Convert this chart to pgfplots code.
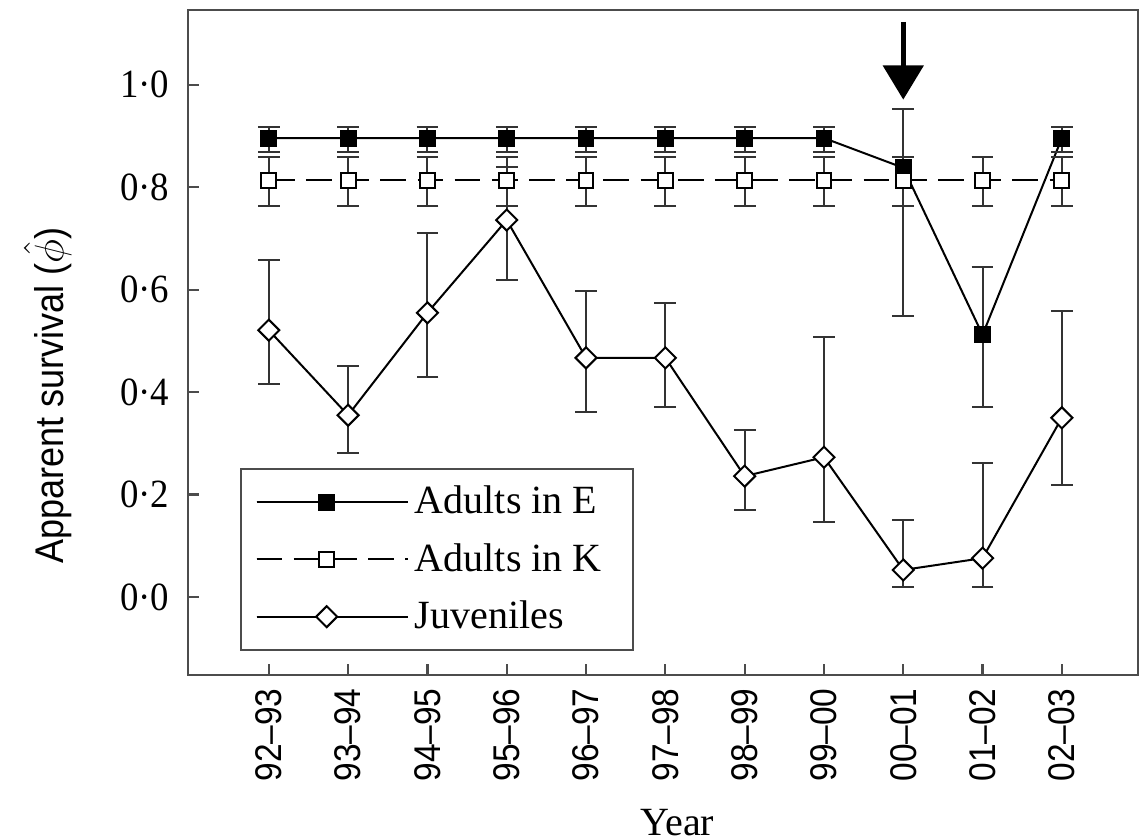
\documentclass[border=0pt]{standalone}
\usepackage{fontspec}
\setmainfont{Liberation Serif}
\newfontfamily\lsn[FakeStretch=0.9]{Liberation Sans}
\newfontfamily\lsr[FakeStretch=0.92]{Liberation Serif}
\usepackage{pgfplots}
\pgfplotsset{compat=1.18}
\usetikzlibrary{arrows.meta}
\begin{document}
\begin{tikzpicture}
\begin{axis}[
  name=ax,
  scale only axis,
  width=332.2pt, height=232.5pt,
  xmin=-1.02, xmax=10.96,
  ymin=-0.152, ymax=1.146,
  axis line style={draw=black!70, line width=0.9pt},
  tick pos=left,
  tick align=inside,
  major tick length=4pt,
  tick style={black!70, line width=0.8pt},
  xtick={0,1,2,3,4,5,6,7,8,9,10},
  xticklabels={92–93,93–94,94–95,95–96,96–97,97–98,98–99,99–00,00–01,01–02,02–03},
  xticklabel style={rotate=90, anchor=east, inner sep=0pt, font=\lsn\fontsize{13}{15}\selectfont},
  xticklabel shift=4.5pt,
  ytick={0,0.2,0.4,0.6,0.8,1.0},
  yticklabels={0·0,0·2,0·4,0·6,0·8,1·0},
  yticklabel style={inner sep=0pt, font=\lsr\fontsize{14}{16}\selectfont},
  yticklabel shift=6.3pt,
  xlabel={Year},
  xlabel style={at={(axis description cs:0.515,-0.222)}, anchor=center, font=\fontsize{14}{16}\selectfont},
  ylabel={Apparent survival ($\hat{\phi}$)},
  ylabel style={at={(axis description cs:-0.1475,0.42)}, anchor=center, font=\lsn\fontsize{14}{16}\selectfont},
  legend style={at={(0.055,0.036)}, anchor=south west, draw=black!70, line width=0.8pt,
    fill=white, font=\fontsize{14}{16}\selectfont, cells={anchor=west},
    inner xsep=5pt, inner ysep=4pt, row sep=4.8pt},
  legend image code/.code={\path (0pt,0pt) -- (53pt,0pt);\draw[mark repeat=2,mark phase=2,#1] plot coordinates {(0pt,0pt) (24.5pt,0pt) (49pt,0pt)};},
  every axis plot/.append style={line width=0.7pt},
  error bars/error bar style={black!80, line width=0.7pt},
  error bars/error mark options={rotate=90, mark size=3.8pt, black!80, line width=0.7pt},
]
% Adults in E
\addplot[black, mark=square*, mark size=2.6pt, mark options={solid, fill=black},
  error bars/.cd, y dir=both, y explicit] coordinates {
  (0,0.896) += (0,0.022) -= (0,0.027)
  (1,0.896) += (0,0.022) -= (0,0.027)
  (2,0.896) += (0,0.022) -= (0,0.027)
  (3,0.896) += (0,0.022) -= (0,0.027)
  (4,0.896) += (0,0.022) -= (0,0.027)
  (5,0.896) += (0,0.022) -= (0,0.027)
  (6,0.896) += (0,0.022) -= (0,0.027)
  (7,0.896) += (0,0.022) -= (0,0.027)
  (8,0.838) += (0,0.115) -= (0,0.289)
  (9,0.512) += (0,0.133) -= (0,0.141)
  (10,0.896) += (0,0.022) -= (0,0.027)
};
\addlegendentry{Adults in E\rule{4pt}{0pt}}
% Adults in K
\addplot[black, dash pattern=on 9pt off 4pt, mark=square*, mark size=2.6pt, mark options={solid, fill=white},
  error bars/.cd, y dir=both, y explicit] coordinates {
  (0,0.814) += (0,0.045) -= (0,0.050)
  (1,0.814) += (0,0.045) -= (0,0.050)
  (2,0.814) += (0,0.045) -= (0,0.050)
  (3,0.814) += (0,0.045) -= (0,0.050)
  (4,0.814) += (0,0.045) -= (0,0.050)
  (5,0.814) += (0,0.045) -= (0,0.050)
  (6,0.814) += (0,0.045) -= (0,0.050)
  (7,0.814) += (0,0.045) -= (0,0.050)
  (8,0.814) += (0,0.045) -= (0,0.050)
  (9,0.814) += (0,0.045) -= (0,0.050)
  (10,0.814) += (0,0.045) -= (0,0.050)
};
\addlegendentry{Adults in K\rule{4pt}{0pt}}
% Juveniles
\addplot[black, mark=square*, mark size=2.6pt, mark options={solid, fill=white, rotate=45},
  error bars/.cd, y dir=both, y explicit] coordinates {
  (0,0.521) += (0,0.137) -= (0,0.105)
  (1,0.355) += (0,0.096) -= (0,0.074)
  (2,0.555) += (0,0.156) -= (0,0.125)
  (3,0.736) += (0,0.104) -= (0,0.117)
  (4,0.467) += (0,0.131) -= (0,0.106)
  (5,0.467) += (0,0.107) -= (0,0.096)
  (6,0.236) += (0,0.090) -= (0,0.066)
  (7,0.273) += (0,0.235) -= (0,0.127)
  (8,0.053) += (0,0.097) -= (0,0.033)
  (9,0.076) += (0,0.186) -= (0,0.056)
  (10,0.350) += (0,0.209) -= (0,0.131)
};
\addlegendentry{Juveniles}
\draw[black, line width=1.8pt, -{Triangle[width=14pt,length=12pt]}] (axis cs:8,1.123) -- (axis cs:8,0.971);
\end{axis}
\pgfresetboundingbox
\path ([shift={(-65.7pt,-57.7pt)}]ax.south west) rectangle ([shift={(2.1pt,3.5pt)}]ax.north east);
\end{tikzpicture}
\end{document}
